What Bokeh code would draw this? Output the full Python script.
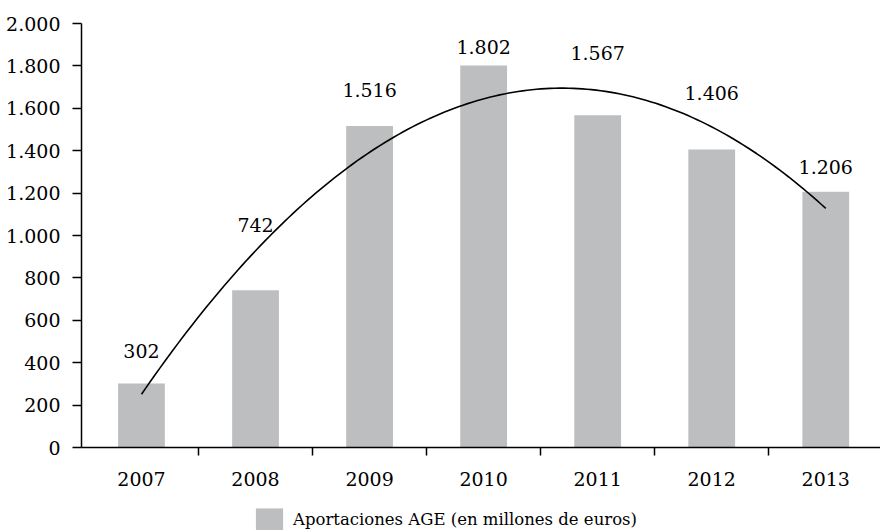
import numpy as np
from bokeh.plotting import figure
from bokeh.layouts import column
from bokeh.core.properties import value
from bokeh.models import (ColumnDataSource, FixedTicker, Legend, LegendItem,
                          LabelSet, Range1d)
from bokeh.embed import file_html
from bokeh.resources import INLINE

# Aportaciones AGE, millones de euros
years = ["2007", "2008", "2009", "2010", "2011", "2012", "2013"]
aportaciones = [302, 742, 1516, 1802, 1567, 1406, 1206]
y_ticks = [0, 200, 400, 600, 800, 1000, 1200, 1400, 1600, 1800, 2000]
serie = "Aportaciones AGE (en millones de euros)"

# how far (px) each value label floats above its bar
label_lift = [32, 65, 36, 18, 62, 56, 25]

FONT = "'DejaVu Serif'"
BAR = "#BDBEC0"


def miles(v):
    return f"{v:,}".replace(",", ".")


idx = list(range(len(years)))
src = ColumnDataSource(dict(
    x=idx,
    y=aportaciones,
    txt=[miles(v) for v in aportaciones],
    lift=label_lift,
))

p = figure(width=880, height=497,
           x_range=Range1d(-0.526, 6.48), y_range=Range1d(0, 2000),
           output_backend="svg", toolbar_location=None,
           min_border_left=81, min_border_right=0,
           min_border_top=23, min_border_bottom=50)
p.outline_line_color = None
p.grid.visible = False

bars = p.vbar(x="x", top="y", width=0.41, source=src,
              fill_color=BAR, line_color=None)

# second-order polynomial trend over the yearly values
coef = np.polyfit(idx, aportaciones, 2)
xs = np.linspace(idx[0], idx[-1], 150)
p.line(xs, np.polyval(coef, xs), line_color="black", line_width=1.6)

labels = LabelSet(x="x", y="y", text="txt", y_offset="lift", source=src,
                  text_align="center", text_baseline="middle",
                  text_font=value(FONT), text_font_size="19px",
                  text_color="black")
p.add_layout(labels)

# x axis: year names at centres, tick marks between categories
xa = p.xaxis[0]
xa.ticker = FixedTicker(ticks=idx, minor_ticks=[i + 0.5 for i in idx[:-1]])
xa.major_label_overrides = {i: y for i, y in zip(idx, years)}
xa.major_tick_in = 0
xa.major_tick_out = 0
xa.minor_tick_in = 0
xa.minor_tick_out = 8
xa.minor_tick_line_color = "black"
xa.minor_tick_line_width = 1.5
xa.axis_line_color = "black"
xa.axis_line_width = 1.5
xa.major_label_standoff = 16
xa.major_label_text_font = FONT
xa.major_label_text_font_size = "19px"
xa.major_label_text_font_style = "normal"
xa.major_label_text_color = "black"

ya = p.yaxis[0]
ya.ticker = FixedTicker(ticks=y_ticks, minor_ticks=[])
ya.major_label_overrides = {v: miles(v) for v in y_ticks}
ya.major_tick_in = 0
ya.major_tick_out = 9
ya.major_tick_line_color = "black"
ya.major_tick_line_width = 1.5
ya.axis_line_color = "black"
ya.axis_line_width = 1.5
ya.major_label_standoff = 12
ya.major_label_text_font = FONT
ya.major_label_text_font_size = "19px"
ya.major_label_text_font_style = "normal"
ya.major_label_text_color = "black"

# legend strip under the chart (its frame lines up with the chart frame)
leg = figure(width=880, height=33, x_range=Range1d(0, 1), y_range=Range1d(0, 1),
             output_backend="svg", toolbar_location=None,
             x_axis_location=None, y_axis_location=None,
             min_border=0)
leg.outline_line_color = None
leg.grid.visible = False
swatch = leg.vbar(x=np.array([np.nan]), top=np.array([np.nan]), width=0.1,
                  fill_color=BAR, line_color=None)
legend = Legend(items=[LegendItem(label=serie, renderers=[swatch])],
                orientation="horizontal", location=(171, -4),
                glyph_width=34, glyph_height=29, label_standoff=7,
                padding=0, margin=0, spacing=0,
                border_line_color=None, background_fill_alpha=0,
                label_text_font=FONT, label_text_font_size="16.5px",
                label_text_color="black")
leg.add_layout(legend)

page = column(p, leg, spacing=0)

with open("out.html", "w") as f:
    f.write(file_html(page, INLINE))
